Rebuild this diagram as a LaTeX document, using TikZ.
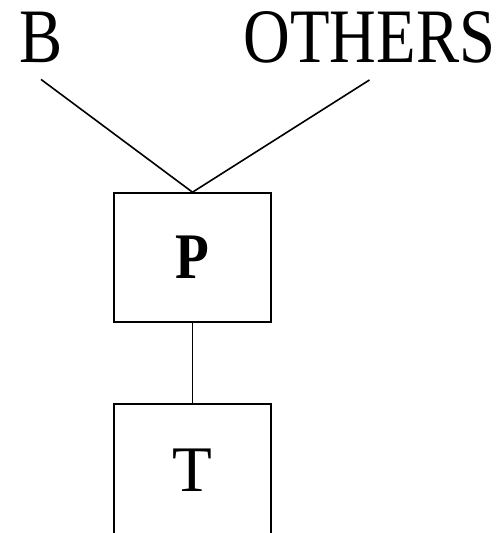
\documentclass[tikz,border=0pt]{standalone}
\usepackage{fontspec}
\setmainfont{Liberation Serif}
\usetikzlibrary{positioning}

\begin{document}
\begin{tikzpicture}[
    x=1pt, y=1pt,
    lbl/.style={font=\fontsize{77}{77}\selectfont, xscale=0.84, inner xsep=0pt, inner ysep=16pt, anchor=base},
    blockbox/.style={rectangle, draw=black, line width=1.6pt, minimum width=157pt, minimum height=129pt, font=\fontsize{65}{65}\selectfont, inner sep=0pt},
    conn/.style={line width=1.6pt}
]
\useasboundingbox (0,0) rectangle (501,533);
\clip (0,0) rectangle (501,533);

\node[lbl] (b) at (41, 470) {B};
\node[lbl] (others) at (369.5, 470) {OTHERS};

\node[blockbox] (p) at (192.5, 275.5) {\bfseries\scalebox{0.85}[1]{P}};
\node[blockbox, minimum height=133pt] (t) at (192.5, 62.5) {T};

\draw[conn] (b.south) -- (p.north);
\draw[conn] (others.south) -- (p.north);
\draw[conn] (p.south) -- (t.north);
\end{tikzpicture}
\end{document}
